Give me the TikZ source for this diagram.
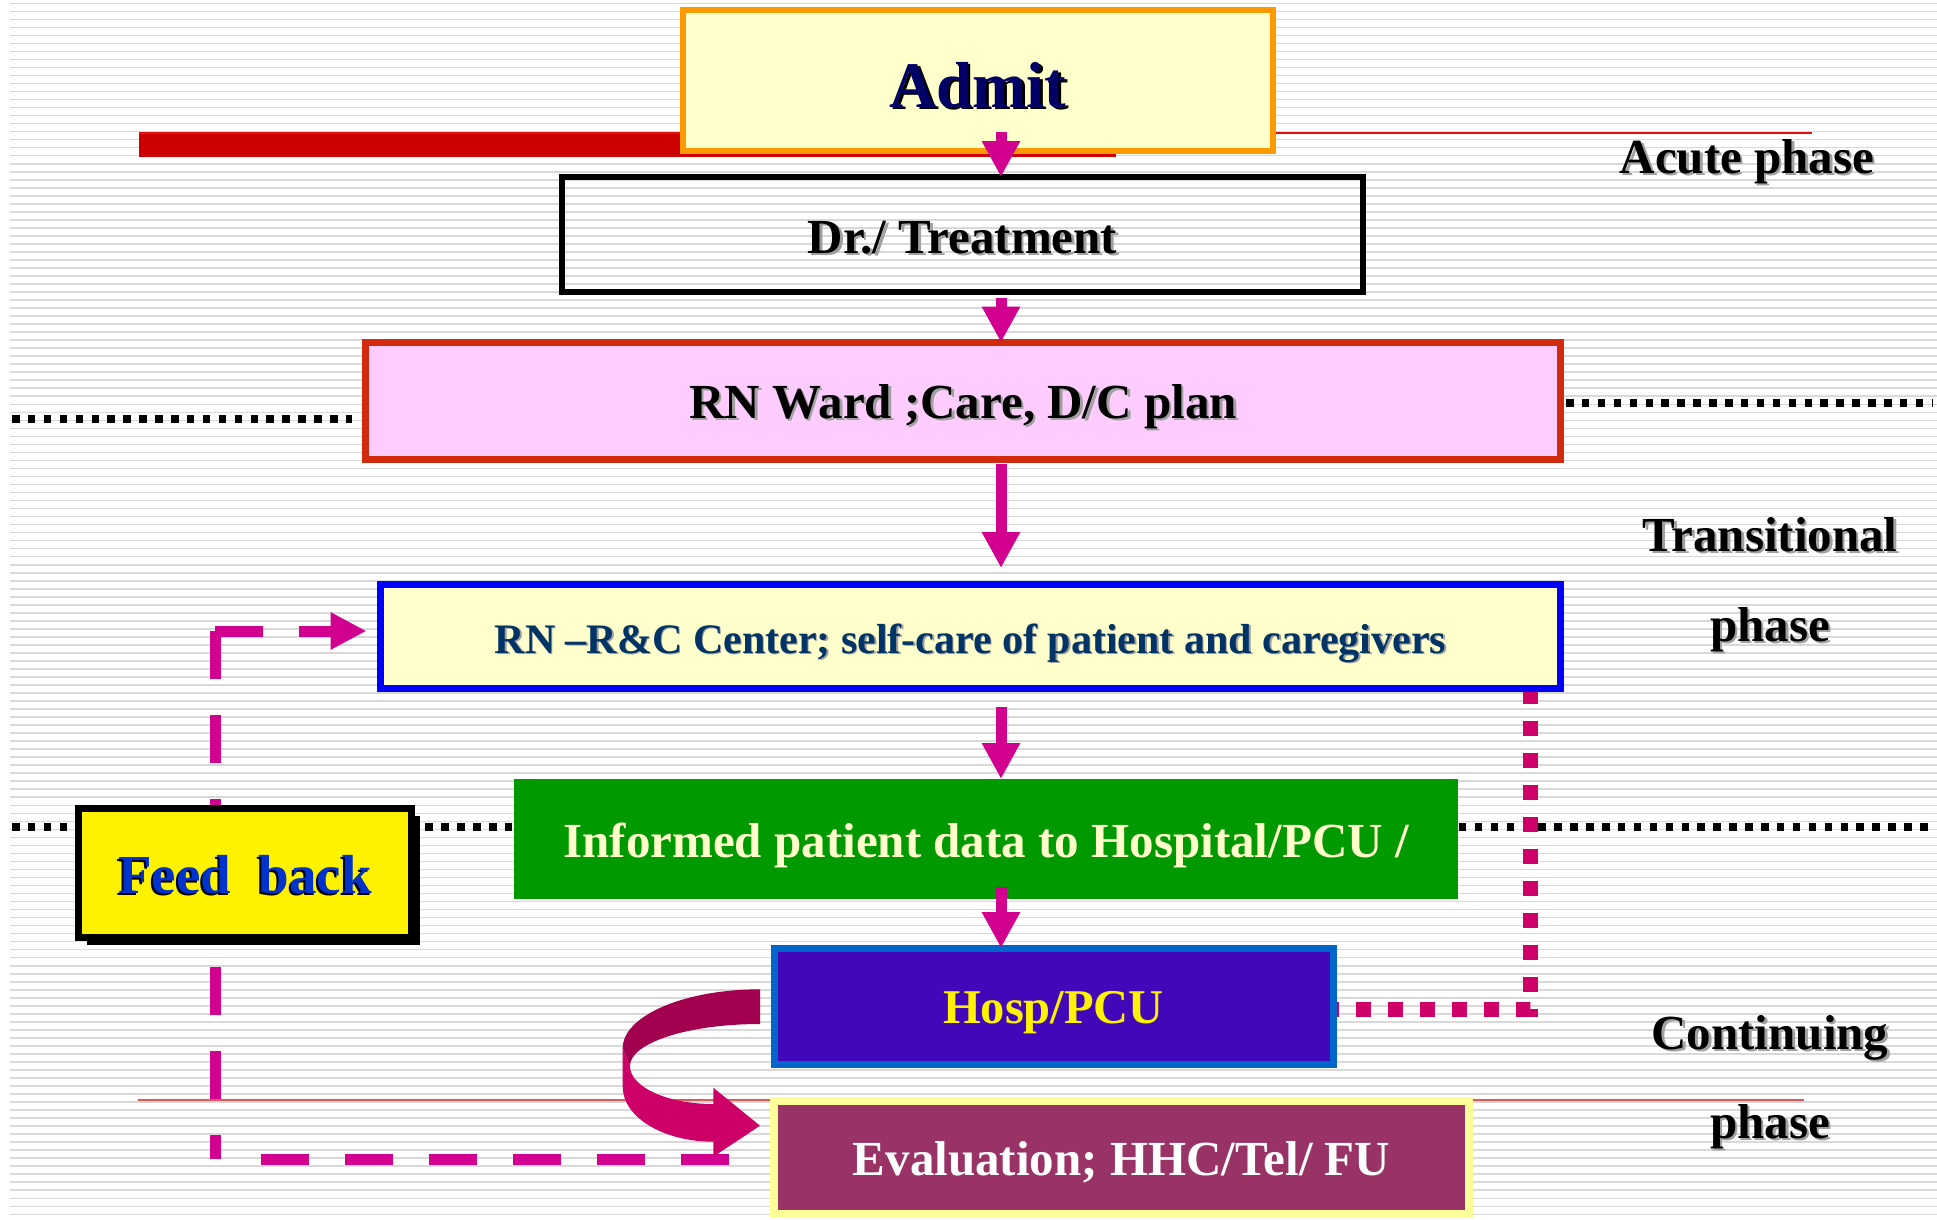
\documentclass[tikz,border=0pt]{standalone}
\usepackage{fontspec}
\setmainfont{Liberation Serif}
\usetikzlibrary{arrows.meta,shadows,calc}

\definecolor{ruling}{HTML}{D9D9D9}
\definecolor{barred}{HTML}{CC0000}
\definecolor{toprule}{HTML}{DD1111}
\definecolor{lowrule}{HTML}{E05A5A}
\definecolor{admitedge}{HTML}{FF9900}
\definecolor{paleyellow}{HTML}{FFFFCC}
\definecolor{navytext}{HTML}{000066}
\definecolor{wardedge}{HTML}{D22A0C}
\definecolor{wardfill}{HTML}{FFCCFF}
\definecolor{centreedge}{HTML}{0000FF}
\definecolor{centretext}{HTML}{003366}
\definecolor{informfill}{HTML}{009900}
\definecolor{hospedge}{HTML}{0066CC}
\definecolor{hospfill}{HTML}{4207B8}
\definecolor{evalfill}{HTML}{993366}
\definecolor{evaledge}{HTML}{FFFF99}
\definecolor{feedtext}{HTML}{0033CC}
\definecolor{flowpink}{HTML}{D1008F}
\definecolor{dotpink}{HTML}{CC0066}
\definecolor{ribbondark}{HTML}{A3004F}
\definecolor{ribbonlight}{HTML}{CC0066}
\definecolor{softshadow}{HTML}{A0A0A0}

% text with an offset copy behind it: colour, x offset, raise, text
\newcommand\shtext[4]{\makebox[0pt][l]{\color{#1}\hspace*{#2}\raisebox{#3}{#4}}#4}
\newcommand\greyshadow[1]{\shtext{softshadow}{2.5pt}{-2.5pt}{#1}}

\pgfdeclarelayer{back}
\pgfdeclarelayer{mid}
\pgfsetlayers{back,mid,main}

\begin{document}
\begin{tikzpicture}[x=1pt,y=-1pt,
  box/.style={rectangle, inner sep=0pt, outer sep=0pt, text depth=0pt},
  txt/.style={font=\bfseries\fontsize{#1pt}{#1pt}\selectfont},
  phase/.style={anchor=base, inner sep=0pt, txt=49},
  flow/.style={draw=flowpink, line width=11pt, -{Triangle[length=36pt,width=36pt]}},
  fbdash/.style={draw=flowpink, line width=11pt, dash pattern=on 48pt off 36pt,
                 -{Triangle[length=36pt,width=35pt]}},
  dotconn/.style={draw=dotpink, line width=15pt, dash pattern=on 15pt off 17pt},
  blackdots/.style={draw=black, line width=8pt, dash pattern=on 7.5pt off 8.4pt}]

\useasboundingbox (0,0) rectangle (1937,1219);

% ---- ruled paper, phase separators ----
\begin{pgfonlayer}{back}
  \fill[white] (0,0) rectangle (1937,1219);
  \foreach \i in {0,...,151}
    \draw[ruling, line width=1.6pt] (10,{3.3+8.02*\i}) -- (1937,{3.3+8.02*\i});
  \fill[barred] (139,133) rectangle (1116,157);
  \draw[toprule, line width=1.5pt] (139,133) -- (1812,133);
  \draw[lowrule, line width=1.5pt] (138,1100) -- (1804,1100);
  \draw[blackdots] (12,419) -- (352,419);
  \draw[blackdots] (1566,403) -- (1932,403);
  \draw[blackdots] (12,827) -- (1932,827);
\end{pgfonlayer}

% ---- process boxes ----
\node[box, draw=admitedge, fill=paleyellow, line width=6pt,
      minimum width=590pt, minimum height=141pt, text height=53pt,
      txt=65, text=navytext] (admit) at (978,80.5)
      {\shtext{black}{2.5pt}{-2.5pt}{Admit}};

\node[box, draw=black, line width=6pt,
      minimum width=801pt, minimum height=115pt, text height=37pt, txt=49] (dr) at (962.5,234.5)
      {\greyshadow{Dr./ Treatment}};

\node[box, draw=wardedge, fill=wardfill, line width=7pt,
      minimum width=1195pt, minimum height=117pt, text height=34pt, txt=49] (ward) at (963,401)
      {\greyshadow{RN Ward ;Care, D/C plan}};

\node[box, draw=centreedge, fill=paleyellow, line width=7pt,
      minimum width=1180pt, minimum height=104pt, text height=33pt, txt=42,
      text=centretext] (rc) at (970.5,636.5)
      {\shtext{softshadow}{1.5pt}{-1.5pt}{RN –R\&C Center; self-care of patient and caregivers}};

\node[box, fill=informfill,
      minimum width=944pt, minimum height=120pt, text height=36pt, txt=49,
      text=paleyellow] (inf) at (986,839)
      {Informed patient data to Hospital/PCU /};

\node[box, draw=hospedge, fill=hospfill, line width=7pt,
      minimum width=559pt, minimum height=116pt, text height=34pt, txt=48.5,
      text=yellow] (hosp) at (1053.5,1006)
      {Hosp/PCU};

\node[box, draw=evaledge, fill=evalfill, line width=8pt,
      minimum width=695pt, minimum height=113pt, text height=35pt, txt=49,
      text=white] (eval) at (1121.5,1157.5)
      {Evaluation; HHC/Tel/ FU};

\node[box, draw=black, fill=yellow, line width=7pt,
      drop shadow={shadow xshift=8.5pt, shadow yshift=-7.5pt, fill=black, opacity=1},
      minimum width=333pt, minimum height=129pt, text height=40pt, txt=55,
      text=feedtext] (fb) at (245,873)
      {\shtext{black}{-2pt}{-2.5pt}{Feed~~back}};

% ---- phase labels ----
\node[phase] (acute)  at (1747,173)  {\greyshadow{Acute phase}};
\node[phase] (trans)  at (1770,551)  {\greyshadow{Transitional}};
\node[phase] (transb) at (1770,641)  {\greyshadow{phase}};
\node[phase] (cont)   at (1770,1049) {\greyshadow{Continuing}};
\node[phase] (contb)  at (1770,1138) {\greyshadow{phase}};

% ---- main flow ----
\coordinate (ax) at (1001,0);
\draw[flow] ($(admit.south -| ax)+(0,-19.3)$) -- (dr.north -| ax);
\draw[flow] ($(dr.south -| ax)+(0,6)$) -- (ward.north -| ax);
\draw[flow] ($(ward.south -| ax)+(0,4)$) -- ($(rc.north -| ax)+(0,-16.5)$);
\draw[flow] ($(rc.south -| ax)+(0,18.5)$) -- (inf.north -| ax);
\draw[flow] ($(inf.south -| ax)+(0,-12)$) -- (hosp.north -| ax);

% ---- feedback loop and return link (under the boxes) ----
\coordinate (dx) at (1530,0);
\coordinate (fbtl) at (215,631);
\coordinate (fbbl) at (215,1159);
\coordinate (fbbe) at (226,1159);
\begin{pgfonlayer}{mid}
  \draw[dotconn] (rc.south -| dx) |- ($(hosp.east)+(0,3)$);
  \draw[fbdash] ($(eval.west)+(-45,1.5)$) -- (fbbe)
                (fbtl) -- (fbbl)
                (fbtl) -- ($(rc.west)+(-14,-5.5)$);
\end{pgfonlayer}

% ---- curled ribbon arrow from Hosp/PCU to Evaluation ----
\fill[ribbondark] (760,989.3) .. controls (684.2,989.3) and (622.7,1015.7) .. (622.7,1048.3)
  -- (630,1066) .. controls (630,1042.8) and (688.2,1024) .. (760,1024) -- cycle;
\fill[ribbonlight] (622.7,1048.3) -- (622.7,1086.7)
  .. controls (622.7,1117.1) and (663.3,1141.7) .. (713.3,1141.7)
  -- (713.3,1156.7) -- (760,1125.7) -- (713.3,1087.7) -- (713.3,1104)
  .. controls (667.3,1104) and (630,1087) .. (630,1066) -- cycle;

\end{tikzpicture}
\end{document}
